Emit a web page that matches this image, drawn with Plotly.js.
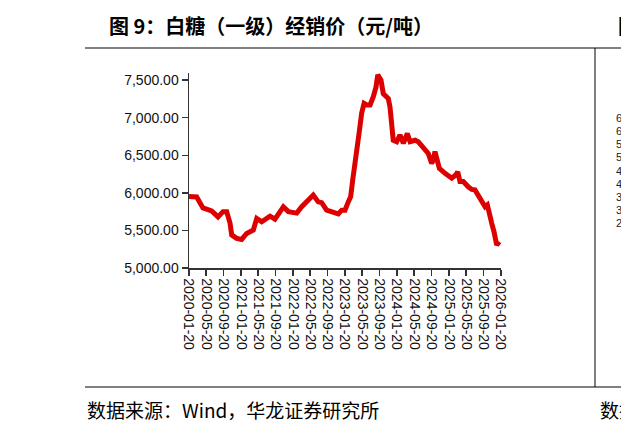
<!DOCTYPE html>
<html>
<head>
<meta charset="utf-8">
<script src="https://cdn.plot.ly/plotly-3.0.1.min.js"></script>
<style>html,body{margin:0;padding:0;background:#fff;}#chart{width:621px;height:423px;}</style>
</head>
<body>
<div id="chart"></div>
<script>
// ---- data ----
const dates = [
 '2020-01-20','2020-03-14','2020-04-27','2020-06-27','2020-08-11','2020-09-15','2020-10-11','2020-11-03',
 '2020-11-15','2020-12-20','2021-01-24','2021-02-28','2021-04-16','2021-05-10','2021-06-14','2021-08-11',
 '2021-09-15','2021-11-13','2021-12-18','2022-02-15','2022-03-22','2022-04-26','2022-06-11','2022-07-16',
 '2022-08-09','2022-09-13','2022-10-30','2022-12-04','2022-12-28','2023-01-20','2023-02-12','2023-03-01',
 '2023-03-15','2023-03-31','2023-04-16','2023-04-30','2023-05-17','2023-06-03','2023-06-21','2023-07-15',
 '2023-08-07','2023-08-26','2023-09-07','2023-09-30','2023-10-16','2023-11-04','2023-11-20','2023-12-02',
 '2023-12-14','2023-12-25','2024-01-18','2024-02-10','2024-03-05','2024-04-02','2024-04-21','2024-05-26',
 '2024-06-18','2024-07-23','2024-08-27','2024-09-20','2024-10-02','2024-10-13','2024-10-25','2024-11-13',
 '2024-12-23','2025-02-08','2025-03-10','2025-03-22','2025-04-07','2025-04-30','2025-06-04','2025-06-28',
 '2025-07-21','2025-08-14','2025-09-06','2025-09-30','2025-10-16','2025-11-04','2025-11-16','2025-12-02',
 '2025-12-21','2026-01-08'
];
const prices = [
 5950,5945,5800,5760,5680,5750,5750,5600,
 5440,5395,5380,5460,5505,5660,5615,5690,
 5650,5815,5750,5730,5815,5880,5970,5880,
 5870,5770,5750,5720,5770,5770,5880,5950,
 6170,6440,6590,6810,7060,7190,7170,7170,
 7280,7410,7570,7500,7320,7280,7255,7145,
 6925,6700,6680,6770,6660,6790,6680,6700,
 6680,6590,6525,6390,6440,6550,6440,6325,
 6260,6195,6240,6280,6150,6150,6080,6045,
 6040,5970,5880,5815,5840,5640,5595,5480,
 5305,5350
];
const xTickLabels = [
 '2020-01-20','2020-05-20','2020-09-20','2021-01-20','2021-05-20','2021-09-20','2022-01-20',
 '2022-05-20','2022-09-20','2023-01-20','2023-05-20','2023-09-20','2024-01-20','2024-05-20',
 '2024-09-20','2025-01-20','2025-05-20','2025-09-20','2026-01-20'
];
const yTickVals = [5000,5500,6000,6500,7000,7500];
const titleText = '图 9：白糖（一级）经销价（元/吨）';
const sourceText = '数据来源：Wind，华龙证券研究所';
const neighbourTicks = ['6','6','5','5','4','4','3','3','2'];

// ---- layout helpers (pixel -> paper coordinates) ----
const W = 621, H = 423;
const L = 189, R = 501, T = 73, B = 268;
const px = x => (x - L) / (R - L);
const py = y => (B - y) / (B - T);

const shapes = [
  {type:'line', xref:'paper', yref:'paper', x0:px(85), x1:px(621), y0:py(48), y1:py(48), line:{color:'#808080', width:2}},
  {type:'line', xref:'paper', yref:'paper', x0:px(85), x1:px(621), y0:py(387), y1:py(387), line:{color:'#808080', width:2}},
  {type:'line', xref:'paper', yref:'paper', x0:px(595), x1:px(595), y0:py(48), y1:py(387), line:{color:'#000', width:1}}
];

const annotations = [
  {xref:'paper', yref:'paper', x:px(107), y:py(26), xanchor:'left', yanchor:'middle', showarrow:false,
   text:'<b>'+titleText+'</b>', font:{family:'"Noto Sans CJK SC", sans-serif', size:20, color:'#000'}},
  {xref:'paper', yref:'paper', x:px(616), y:py(26), xanchor:'left', yanchor:'middle', showarrow:false,
   text:'<b>图</b>', font:{family:'"Noto Sans CJK SC", sans-serif', size:20, color:'#000'}},
  {xref:'paper', yref:'paper', x:px(85), y:py(409), xanchor:'left', yanchor:'middle', showarrow:false,
   text:sourceText, font:{family:'"Noto Sans CJK SC", sans-serif', size:19, color:'#000'}},
  {xref:'paper', yref:'paper', x:px(598), y:py(409), xanchor:'left', yanchor:'middle', showarrow:false,
   text:'数据', font:{family:'"Noto Sans CJK SC", sans-serif', size:19, color:'#000'}}
];
const nbY = [118,131,144,157,171,184,197,210,223];
neighbourTicks.forEach((t,i) => annotations.push({
  xref:'paper', yref:'paper', x:px(614), y:py(nbY[i]), xanchor:'left', yanchor:'middle', showarrow:false,
  text:t, font:{family:'Liberation Sans, Arial, sans-serif', size:11, color:'#222'}
}));

const trace = {
  x: dates, y: prices, type:'scatter', mode:'lines',
  line:{color:'#dd0000', width:5}, hoverinfo:'skip'
};

const layout = {
  width:W, height:H,
  margin:{l:L, r:W-R, t:T, b:H-B, pad:0},
  paper_bgcolor:'#fff', plot_bgcolor:'#fff',
  showlegend:false,
  font:{family:'Liberation Sans, Arial, sans-serif', color:'#111'},
  xaxis:{
    type:'date', range:['2020-01-20','2026-01-20'],
    tickmode:'array', tickvals:xTickLabels, ticktext:xTickLabels,
    tickangle:90, tickfont:{size:14, color:'#111'},
    ticks:'outside', ticklen:6, tickwidth:1.5, tickcolor:'#333',
    showline:true, linecolor:'#333', linewidth:1.5, showgrid:false, zeroline:false
  },
  yaxis:{
    range:[5000,7595],
    tickmode:'array', tickvals:yTickVals, tickformat:',.2f',
    tickfont:{size:14, color:'#111'},
    ticks:'outside', ticklen:6, tickwidth:1.5, tickcolor:'#333',
    showline:true, linecolor:'#333', linewidth:1.5, showgrid:false, zeroline:false
  },
  shapes: shapes,
  annotations: annotations
};

Plotly.newPlot('chart', [trace], layout, {staticPlot:true, displayModeBar:false});
</script>
</body>
</html>
